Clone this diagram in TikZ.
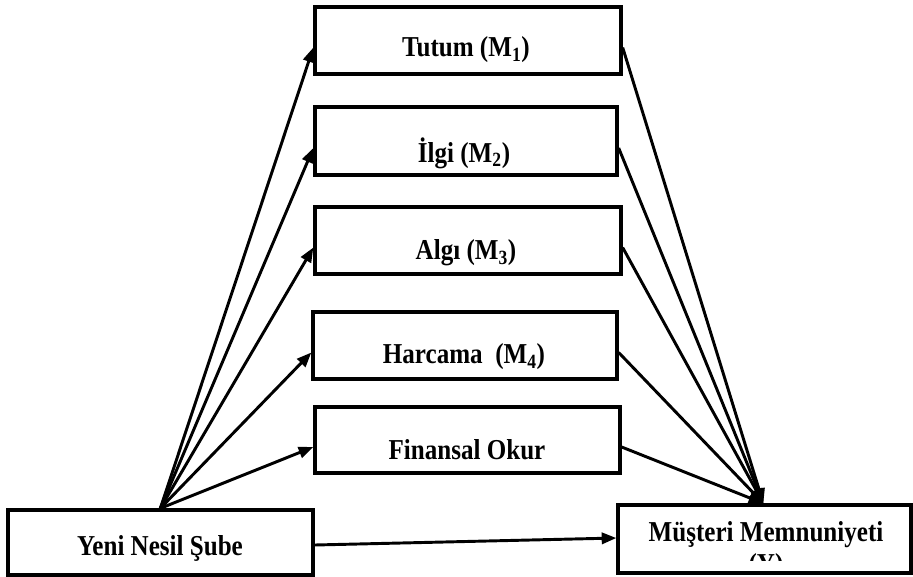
\documentclass[tikz,border=0pt]{standalone}
\usepackage{fontspec}
\setmainfont{Liberation Serif}
\usetikzlibrary{arrows.meta,calc}
\newcommand{\vstretchtxt}[1]{\scalebox{1}[1.15]{#1}}
\begin{document}
\begin{tikzpicture}[x=0.75pt,y=-0.75pt,
  box/.style={draw,line width=2.5pt,rectangle,inner sep=0pt},
  lbl/.style={inner sep=0pt,font=\fontsize{18.8}{22}\selectfont\bfseries},
  arr/.style={line width=2.2pt,-{Triangle[length=11pt,width=8.5pt]}},
  ln/.style={line width=2.2pt}]
\useasboundingbox (0,0) rectangle (913,576);
\fill[white] (0,0) rectangle (913,576);
% boxes
\node[box,minimum width=306*0.75pt,minimum height=67*0.75pt] (t1) at (468,40.5) {};
\node[box,minimum width=302*0.75pt,minimum height=68*0.75pt] (t2) at (466,141) {};
\node[box,minimum width=306*0.75pt,minimum height=67*0.75pt] (t3) at (468,240.5) {};
\node[box,minimum width=304*0.75pt,minimum height=67*0.75pt] (t4) at (465,345.5) {};
\node[box,minimum width=305*0.75pt,minimum height=66*0.75pt] (t5) at (467.5,440) {};
\node[box,minimum width=305*0.75pt,minimum height=65*0.75pt] (yn) at (160.5,542.5) {};
\node[box,minimum width=293*0.75pt,minimum height=68*0.75pt] (mm) at (764.5,539) {};
% labels
\node[lbl] (l1) at (466,50) {\vstretchtxt{Tutum (M\textsubscript{1})}};
\node[lbl] (l2) at (464,153) {\vstretchtxt{İlgi (M\textsubscript{2})}};
\node[lbl] (l3) at (466,253) {\vstretchtxt{Algı (M\textsubscript{3})}};
\node[lbl] (l4) at (464,357) {\vstretchtxt{Harcama\ \ (M\textsubscript{4})}};
\node[lbl] (l5) at (467,450) {\vstretchtxt{Finansal Okur}};
\node[lbl] (l6) at (160,548) {\vstretchtxt{Yeni Nesil Şube}};
\node[lbl] (l7) at (766,535) {\vstretchtxt{Müşteri Memnuniyeti}};
\begin{scope}
  \clip (620,540) rectangle (911,560);
  \node[lbl] (l8) at (766,567) {\vstretchtxt{(Y)}};
\end{scope}
% fan coordinates
\coordinate (fan) at ($(yn.north west)+(154,0)$);
\coordinate (cv) at ($(mm.north west)+(147,0)$);
% arrows
\foreach \b in {t1,t2,t3,t4,t5}{
  \draw[arr] (fan) -- ($(\b.west)+(0,7)$);
  \draw[arr] ($(\b.east)+(0,7)$) -- (cv);
}
\draw[arr] ($(yn.east)+(0,2.5)$) -- ($(mm.west)+(0,-1)$);
\end{tikzpicture}
\end{document}
